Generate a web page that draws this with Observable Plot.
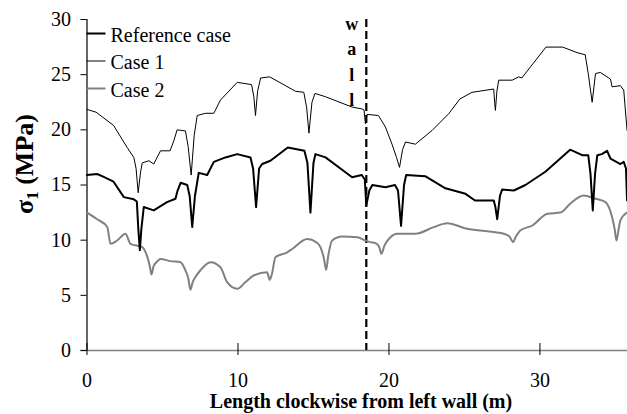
<!DOCTYPE html>
<html><head><meta charset="utf-8">
<script src="https://cdn.jsdelivr.net/npm/d3@7"></script>
<script src="https://cdn.jsdelivr.net/npm/@observablehq/plot@0.6"></script>
<style>
html,body{margin:0;padding:0;background:#fff;}
#chart svg{display:block;}
</style></head><body><div id="chart"></div>
<script>
// ---- data ----
const seriesNames = ["Reference case", "Case 1", "Case 2"];

const refX = [0,0.67,1.0,1.76,2.44,3.1,3.3,3.4,3.5,3.6,3.76,4.42,5.3,5.86,6.0,6.2,6.64,6.8,6.97,7.15,7.4,7.96,8.4,9.17,9.95,10.83,11.0,11.2,11.4,11.6,12.15,13.3,14.4,14.6,14.8,15.0,15.13,15.8,17.56,18.2,18.4,18.5,18.7,18.9,19.77,20.4,20.6,20.8,21.0,21.14,22.4,23.74,25.07,25.7,26.94,27.05,27.17,27.35,27.5,28.27,29.04,30.36,32.0,32.8,33.2,33.35,33.5,33.65,33.8,34.1,34.45,34.67,35.33,35.55,35.7,35.77];
const refY = [15.9,16.0,15.8,15.3,13.9,13.7,13.5,11.0,9.1,11.0,13.0,12.7,13.45,13.75,14.5,15.2,15.0,14.0,11.2,14.0,16.1,15.9,17.1,17.5,17.8,17.5,16.5,13.0,16.5,16.9,17.2,18.4,18.1,17.0,12.5,17.0,17.8,17.5,15.7,15.9,15.5,13.15,14.5,15.0,14.8,15.0,14.5,11.3,15.0,15.9,15.8,14.7,14.2,13.6,13.6,13.0,11.9,14.0,14.6,14.5,15.0,16.2,18.2,17.7,17.7,16.0,12.7,16.0,17.7,17.8,18.1,17.4,16.9,17.1,16.5,13.6];

const case1X = [0,0.6,1.76,2.66,3.1,3.25,3.39,3.55,3.66,4.1,4.42,4.87,5.5,5.75,5.97,6.52,6.7,6.9,7.1,7.3,7.85,8.4,8.84,9.95,10.9,11.05,11.16,11.3,11.5,12.1,12.5,13.8,14.36,14.55,14.7,14.9,15.1,15.8,17.56,18.2,18.35,18.44,18.55,19.3,19.77,20.2,20.5,20.7,20.9,21.1,21.75,22.86,23.96,24.7,25.5,26.94,27.0,27.05,27.15,27.27,28.16,28.6,28.8,30.4,31.5,32.46,33.0,33.2,33.46,33.68,34.0,34.67,34.78,35.33,35.55,35.77];
const case1Y = [21.85,21.6,20.4,18.4,17.5,16.5,14.3,16.2,17.0,17.2,16.9,18.1,18.1,19.0,20.0,19.9,18.5,15.9,19.5,21.3,21.5,21.5,22.7,24.3,24.1,23.0,21.3,23.5,24.7,24.8,24.5,23.5,23.4,22.0,19.7,22.5,23.3,23.0,22.06,21.9,21.8,20.55,21.4,21.3,20.25,18.7,17.5,16.6,18.2,18.9,18.7,19.95,21.46,22.8,23.4,23.7,22.5,21.76,23.5,24.5,24.5,24.8,24.7,27.5,27.5,27.0,26.8,25.1,22.5,25.1,25.2,24.6,23.9,24.0,23.6,19.95];

const case2X = [0,0.67,1.34,1.56,2.0,2.55,2.88,3.66,4.0,4.15,4.27,4.4,4.6,4.87,5.53,6.2,6.52,6.7,6.85,7.0,7.2,7.5,8.18,8.84,9.28,9.95,10.5,11.05,11.93,12.1,12.26,12.48,13.26,13.59,14.58,15.2,15.46,15.7,15.84,15.98,16.24,16.9,17.9,18.44,18.77,19.1,19.35,19.5,19.7,20.1,20.54,21.75,22.97,23.85,25.18,26.94,27.6,28.0,28.22,28.4,28.7,29.5,30.5,31.36,32.0,32.9,33.68,34.34,34.78,34.95,35.07,35.2,35.33,35.77];
const case2Y = [12.5,11.9,11.2,9.67,9.97,10.58,9.67,9.37,8.46,7.7,6.89,7.6,8.0,8.3,8.1,8.0,7.25,6.6,5.5,6.2,6.7,7.25,8.0,7.55,6.19,5.59,6.2,6.8,7.1,6.4,7.0,8.46,8.9,9.2,10.1,9.8,9.37,8.3,7.3,8.6,9.97,10.33,10.27,9.97,9.82,9.73,9.4,8.76,9.5,10.27,10.58,10.58,11.18,11.54,11.03,10.73,10.58,10.3,9.82,10.3,10.88,11.33,12.4,12.5,13.3,14.05,13.75,13.45,12.08,11.0,9.97,10.9,11.8,12.5];

const xTicks = [0, 10, 20, 30];
const yTicks = [0, 5, 10, 15, 20, 25, 30];
const wallX = 18.5;
const wallLetters = ["w", "a", "l", "l"];
const xTitle = "Length clockwise from left wall (m)";

// ---- styles ----
const font = "'Liberation Serif','Times New Roman',serif";
const styles = {
  "Reference case": {stroke: "#000000", width: 2},
  "Case 1": {stroke: "#000000", width: 1},
  "Case 2": {stroke: "#808080", width: 2}
};
const series = [
  {name: seriesNames[0], xs: refX, ys: refY},
  {name: seriesNames[1], xs: case1X, ys: case1Y},
  {name: seriesNames[2], xs: case2X, ys: case2Y}
];
const tables = series.map(s => s.xs.map((x, i) => ({series: s.name, x, y: s.ys[i]})));

function legendMark(index, scales, values, dims) {
  const g = d3.create("svg:g").attr("font-family", font).attr("font-size", 20).attr("text-anchor", "start");
  seriesNames.forEach((name, i) => {
    const y = dims.marginTop + 14.5 + i * 27.5;
    g.append("line")
      .attr("x1", dims.marginLeft).attr("x2", dims.marginLeft + 19)
      .attr("y1", y).attr("y2", y)
      .attr("stroke", styles[name].stroke).attr("stroke-width", styles[name].width);
    g.append("text")
      .attr("x", dims.marginLeft + 24).attr("y", y + 8)
      .attr("text-anchor", "start")
      .attr("fill", "#000").text(name);
  });
  return g.node();
}

const chart = Plot.plot({
  width: 627, height: 414,
  marginLeft: 86.5, marginRight: 0, marginTop: 19, marginBottom: 64,
  style: {fontFamily: font, fontSize: "20px", background: "#fff", color: "#000"},
  x: {domain: [0, 35.8]},
  y: {domain: [0, 30]},
  marks: [
    Plot.ruleY([0], {stroke: "#808080", strokeWidth: 1.5, insetLeft: -6}),
    Plot.axisY({ticks: yTicks, tickSize: 6, tickPadding: 10, label: null, fontSize: 20}),
    Plot.axisX({ticks: xTicks, tickSize: 5, tickPadding: 17, label: null, fontSize: 20}),
    Plot.axisX({ticks: xTicks, tickSize: -7, text: null, label: null}),
    Plot.ruleX([0], {stroke: "#000", strokeWidth: 1.2}),
    Plot.ruleX([wallX], {stroke: "#000", strokeWidth: 2.2, strokeDasharray: "8,4"}),
    Plot.line(tables[2], {x: "x", y: "y", stroke: styles["Case 2"].stroke, strokeWidth: styles["Case 2"].width, curve: "monotone-x"}),
    Plot.line(tables[1], {x: "x", y: "y", stroke: styles["Case 1"].stroke, strokeWidth: styles["Case 1"].width}),
    Plot.line(tables[0], {x: "x", y: "y", stroke: styles["Reference case"].stroke, strokeWidth: styles["Reference case"].width}),
    legendMark
  ]
});

// titles and wall annotation
const svg = d3.select(chart);
const xs = chart.scale("x");
const wx = xs.apply(wallX);
wallLetters.forEach((ch, i) => {
  svg.append("text")
    .attr("x", wx - 14).attr("y", 30 + i * 25.3)
    .attr("text-anchor", "middle")
    .attr("font-family", font).attr("font-weight", "bold").attr("font-size", 18)
    .text(ch);
});
svg.append("text")
  .attr("x", 361).attr("y", 408)
  .attr("text-anchor", "middle")
  .attr("font-family", font).attr("font-weight", "bold").attr("font-size", 20)
  .text(xTitle);
const yl = svg.append("text")
  .attr("transform", "translate(33,164) rotate(-90)")
  .attr("text-anchor", "middle")
  .attr("font-family", font).attr("font-weight", "bold").attr("font-size", 26);
yl.append("tspan").text("σ");
yl.append("tspan").attr("font-size", 17).attr("dy", 5).text("1");
yl.append("tspan").attr("dy", -5).text(" (MPa)");

document.getElementById("chart").append(chart);
</script>
</body></html>
